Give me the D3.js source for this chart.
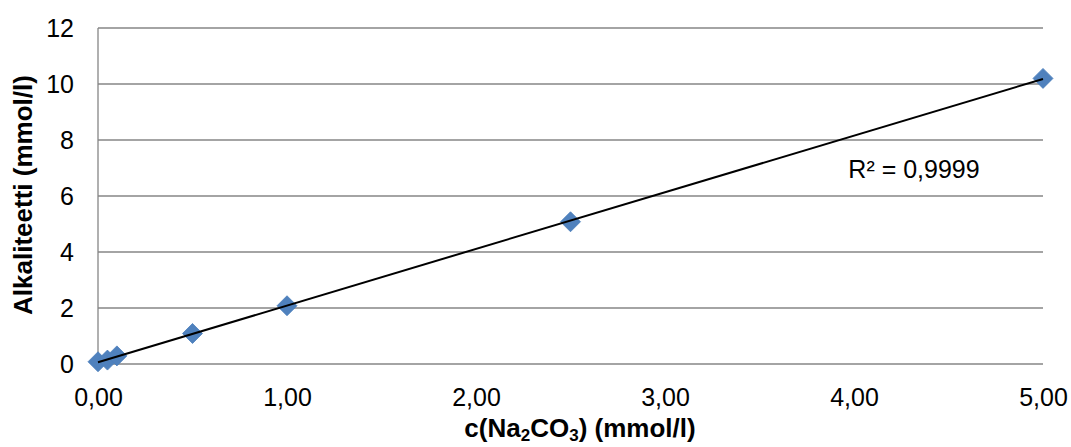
<!DOCTYPE html>
<html>
<head>
<meta charset="utf-8">
<script src="https://cdn.jsdelivr.net/npm/d3@7"></script>
<style>
  body { margin: 0; background: #fff; }
  svg { display: block; font-family: "Liberation Sans", Arial, sans-serif; }
</style>
</head>
<body>
<svg id="chart" width="1071" height="447"></svg>
<script>
// measured standards
const concentrations = [0, 0.05, 0.1, 0.5, 1.0, 2.5, 5.0]
const alkalinity = [0.08, 0.14, 0.29, 1.09, 2.08, 5.08, 10.2]
const xTicks = [0, 1, 2, 3, 4, 5]
const yTicks = [0, 2, 4, 6, 8, 10, 12]
const r2Label = 'R² = 0,9999'

const margin = { top: 28, right: 28, bottom: 83, left: 98 }
const width = 1071 - margin.left - margin.right
const height = 447 - margin.top - margin.bottom

const svg = d3.select('#chart')
const g = svg.append('g').attr('transform', `translate(${margin.left},${margin.top})`)

const x = d3.scaleLinear().domain([0, 5]).range([0, width])
const y = d3.scaleLinear().domain([0, 12]).range([height, 0])

const fmt = d => d3.format('.2f')(d).replace('.', ',')

// gridlines
g.append('g')
	.selectAll('line').data(yTicks)
	.enter().append('line')
	.attr('x1', 0).attr('x2', width)
	.attr('y1', d => y(d)).attr('y2', d => y(d))
	.attr('stroke', '#868686').attr('stroke-width', 1.3)

// left axis line
g.append('line')
	.attr('x1', 0).attr('x2', 0).attr('y1', 0).attr('y2', height)
	.attr('stroke', '#868686').attr('stroke-width', 1.3)

const yAxis = g.append('g').call(d3.axisLeft(y).tickValues(yTicks).tickSize(0).tickPadding(24))
yAxis.select('.domain').remove()
yAxis.selectAll('text').attr('font-size', 25).attr('fill', '#000').attr('font-family', 'Liberation Sans, Arial, sans-serif')

const xAxis = g.append('g').attr('transform', `translate(0,${height})`)
	.call(d3.axisBottom(x).tickValues(xTicks).tickFormat(fmt).tickSize(0).tickPadding(24))
xAxis.select('.domain').remove()
xAxis.selectAll('text').attr('font-size', 25).attr('fill', '#000').attr('font-family', 'Liberation Sans, Arial, sans-serif')

// linear trendline (least squares)
const mx = d3.mean(concentrations), my = d3.mean(alkalinity)
const slope = d3.sum(concentrations, (c, i) => (c - mx) * (alkalinity[i] - my)) /
	d3.sum(concentrations, c => (c - mx) * (c - mx))
const intercept = my - slope * mx

// square diamond markers
const diamond = {
	draw(ctx, size) {
		const r = Math.sqrt(size / 2)
		ctx.moveTo(0, -r)
		ctx.lineTo(r, 0)
		ctx.lineTo(0, r)
		ctx.lineTo(-r, 0)
		ctx.closePath()
	}
}
const sym = d3.symbol().type(diamond).size(200)
g.append('g')
	.selectAll('path').data(concentrations)
	.enter().append('path')
	.attr('d', sym)
	.attr('transform', (c, i) => `translate(${x(c)},${y(alkalinity[i])})`)
	.attr('fill', '#4F81BD').attr('stroke', '#4A7EBB').attr('stroke-width', 0.8)

g.append('line')
	.attr('x1', x(0)).attr('y1', y(intercept))
	.attr('x2', x(5)).attr('y2', y(intercept + slope * 5))
	.attr('stroke', '#000').attr('stroke-width', 2)

g.append('text')
	.attr('x', x(3.97)).attr('y', y(6.64))
	.attr('font-size', 25).attr('fill', '#000')
	.text(r2Label)

// axis titles
const xt = svg.append('text')
	.attr('x', 580).attr('y', 437)
	.attr('text-anchor', 'middle')
	.attr('font-size', 26).attr('font-weight', 'bold')
xt.append('tspan').text('c(Na')
xt.append('tspan').attr('font-size', 17).attr('dy', 4).text('2')
xt.append('tspan').attr('dy', -4).text('CO')
xt.append('tspan').attr('font-size', 17).attr('dy', 4).text('3')
xt.append('tspan').attr('dy', -4).text(') (mmol/l)')

svg.append('text')
	.attr('transform', 'translate(32,195) rotate(-90)')
	.attr('text-anchor', 'middle')
	.attr('font-size', 26).attr('font-weight', 'bold')
	.text('Alkaliteetti (mmol/l)')
</script>
</body>
</html>
